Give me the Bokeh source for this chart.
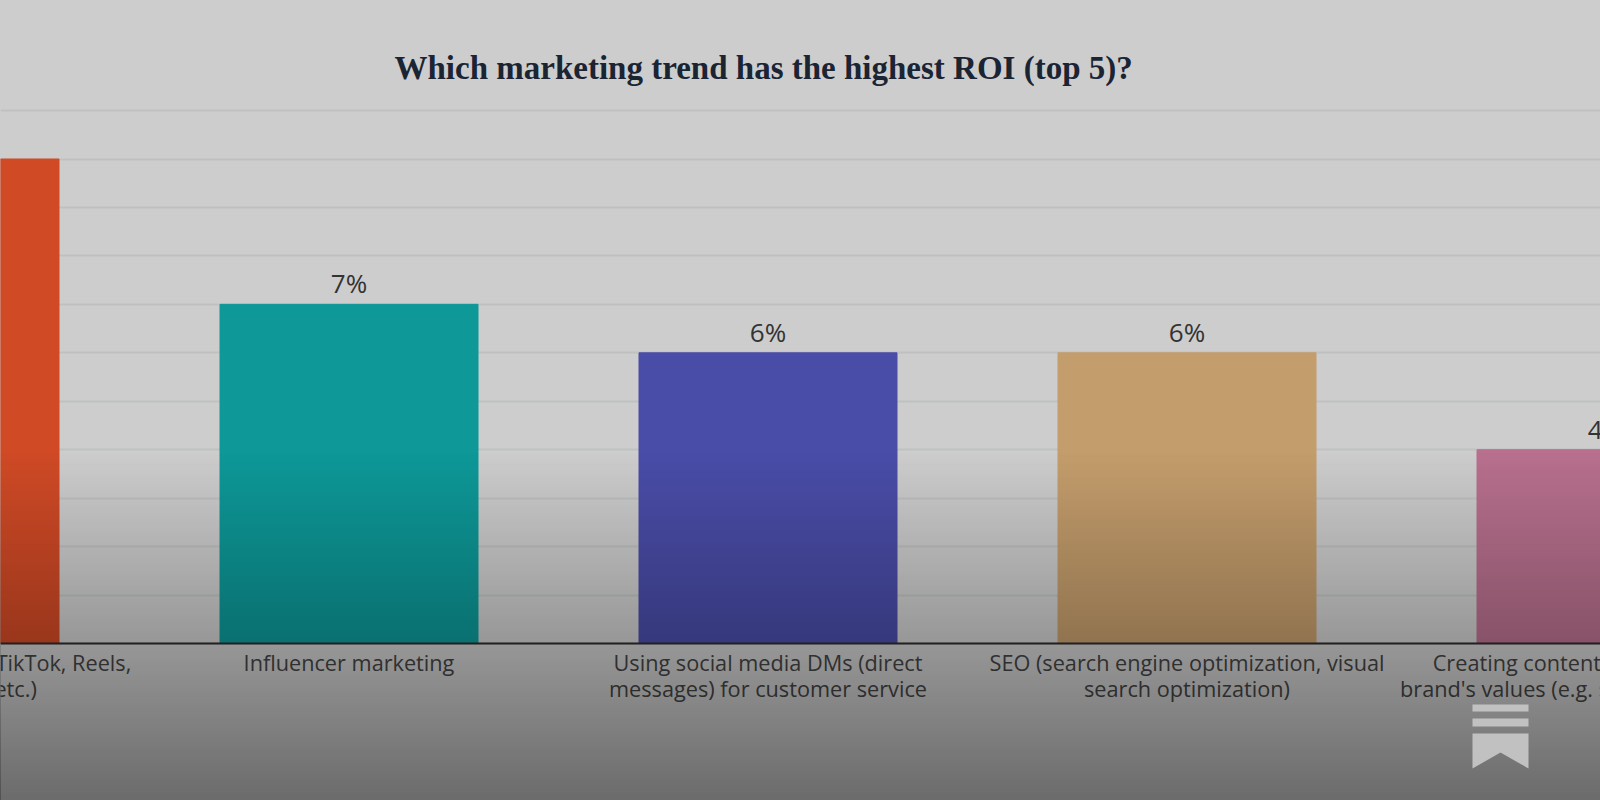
import numpy as np
from bokeh.embed import file_html
from bokeh.resources import INLINE
from bokeh.plotting import figure
from bokeh.models import ColumnDataSource, LabelSet, Range1d, FixedTicker, GlobalInlineStyleSheet
from bokeh.core.properties import value

TITLE = "Which marketing trend has the highest ROI (top 5)?"
category_line1 = [
    "Short-form video content (TikTok, Reels,",
    "Influencer marketing",
    "Using social media DMs (direct",
    "SEO (search engine optimization, visual",
    "Creating content that reflects your",
]
category_line2 = [
    "YouTube Shorts, etc.)",
    "",
    "messages) for customer service",
    "search optimization)",
    "brand's values (e.g. sustainability, equity)",
]
values = [10, 7, 6, 6, 4]
value_labels = ["10%", "7%", "6%", "6%", "4%"]
colors = ["#d04a26", "#0e9898", "#4a4da8", "#c49d6c", "#b8708e"]
positions = [0, 1, 2, 3, 4]
grid_ticks = list(range(12))

# page geometry (window pixels) used to line the scales up with the picture
W, H, M = 1600, 800, 0
FRAME_TOP = 100
ZERO_PX, UNIT_PX = 643, 48.45
CENTER0_PX, STEP_PX, BAR_PX = -70.5, 419.0, 258.0

def data_x(px):
    return (px - CENTER0_PX) / STEP_PX

def data_y(py):
    return (ZERO_PX - py) / UNIT_PX

x_range = Range1d(data_x(M), data_x(M + W))
y_range = Range1d(data_y(M + H), data_y(FRAME_TOP))

p = figure(width=W, height=H, x_range=x_range, y_range=y_range,
           output_backend="svg", toolbar_location=None, title=TITLE,
           min_border=0, min_border_top=FRAME_TOP - M,
           background_fill_color="#cdcdcd", border_fill_color="#cdcdcd",
           outline_line_color=None)

p.title.align = "left"
p.title.offset = 394
p.title.text_font = "Liberation Serif"
p.title.text_font_style = "bold"
p.title.text_font_size = "33px"
p.title.text_color = "#1a2433"
p.title.standoff = 29

p.yaxis.visible = False
p.xgrid.visible = False
p.ygrid.ticker = FixedTicker(ticks=grid_ticks)
p.ygrid.grid_line_color = "#bfc1c1"
p.ygrid.grid_line_width = 2

ax = p.xaxis[0]
ax.fixed_location = 0
ax.ticker = FixedTicker(ticks=[])
ax.axis_line_color = "#2c2c2c"
ax.axis_line_width = 2
ax.major_tick_line_color = None
ax.minor_tick_line_color = None
ax.major_label_text_font_size = "0px"

src = ColumnDataSource(dict(x=positions, top=values, color=colors, label=value_labels,
                            line1=category_line1, line2=category_line2, zero=[0] * 5))
p.vbar(x="x", top="top", bottom=0, width=BAR_PX / STEP_PX, color="color", source=src)

p.add_layout(LabelSet(x="x", y="top", text="label", source=src, y_offset=3,
                      text_align="center", text_baseline="bottom",
                      text_font=value("Open Sans"), text_font_size="26px", text_color="#333333"))
for column, offset in (("line1", -19), ("line2", -45)):
    p.add_layout(LabelSet(x="x", y="zero", text=column, source=src, y_offset=offset,
                          text_align="center", text_baseline="middle",
                          text_font=value("Open Sans"), text_font_size="21.7px", text_color="#444444"))

# darkening veil over the lower part of the picture
VEIL_TOP, VEIL_ALPHA = 450, 0.48
rows = 400
alpha = np.linspace(VEIL_ALPHA, 0, rows)
veil = np.zeros((rows, 2), dtype=np.uint32)
veil[:, :] = (np.round(alpha * 255).astype(np.uint32)[:, None] << 24)
p.image_rgba(image=[veil], x=data_x(-2), y=data_y(802), dw=data_x(1602) - data_x(-2),
             dh=data_y(VEIL_TOP) - data_y(802), level="overlay")

# bookmark logo
LOGO = "#c1c1c1"
p.quad(left=[data_x(1472)] * 2, right=[data_x(1528)] * 2,
       top=[data_y(704), data_y(718)], bottom=[data_y(711), data_y(726)],
       color=LOGO, line_color=None, level="overlay")
p.patch([data_x(v) for v in (1472, 1528, 1528, 1500, 1472)],
        [data_y(v) for v in (733, 733, 768, 752, 768)],
        color=LOGO, line_color=None, level="overlay")

p.stylesheets = [GlobalInlineStyleSheet(css=(
    "html{min-height:100%;background:linear-gradient(to bottom,#cdcdcd 0,#cdcdcd 450px,#6b6b6b 800px) no-repeat;}"
    "body{background:transparent;}"))]

open("out.html", "w").write(file_html(p, INLINE))
